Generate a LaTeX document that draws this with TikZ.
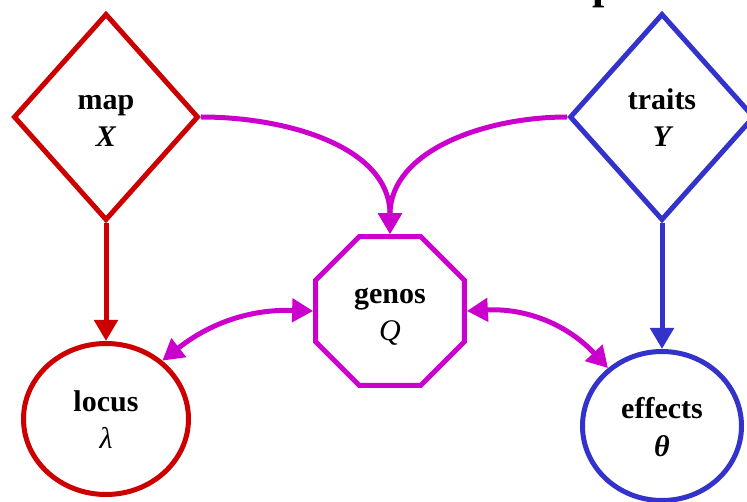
\documentclass[tikz,border=0pt]{standalone}
\usepackage{fontspec}
\setmainfont{Liberation Serif}
\usetikzlibrary{shapes.geometric,arrows.meta}
\definecolor{cred}{RGB}{204,0,0}
\definecolor{cblue}{RGB}{51,51,204}
\definecolor{cmag}{RGB}{204,0,204}
\newcommand\tstrut{\rule{0pt}{29pt}}
\newcommand\bstrut{\rule[-6pt]{0pt}{6pt}}
\begin{document}
\begin{tikzpicture}[x=1pt,y=1pt,
 lbl/.style={align=center,font=\fontsize{30}{37}\selectfont,inner sep=0pt,line width=5pt},
 dia/.style={lbl,diamond,draw,minimum width=185pt,minimum height=207pt},
 ell/.style={lbl,ellipse,draw},
 oct/.style={lbl,regular polygon,regular polygon sides=8,draw,minimum size=161pt},
 tip/.tip={Triangle[length=21pt,width=23pt]},
 arr/.style={line width=5pt,-tip},
 darr/.style={line width=5pt,tip-tip}]
\path[use as bounding box] (0,0) rectangle (747,-502);
\clip (0,0) rectangle (747,-502);
\node[font=\fontsize{44}{44}\selectfont\bfseries, anchor=base, inner sep=0pt] (title) at (605,1) {p};
\node[dia,cred] (map) at (106,-117) {\color{black}\tstrut\bfseries map\\\color{black}\bfseries\itshape X\bstrut};
\node[dia,cblue] (traits) at (662,-117) {\color{black}\tstrut\bfseries traits\\\color{black}\bfseries\itshape Y\bstrut};
\node[oct,cmag] (genos) at (390,-311) {\color{black}\tstrut\bfseries genos\\\color{black}\itshape Q\bstrut};
\node[ell,cred,minimum width=165pt,minimum height=151pt] (locus) at (106,-419) {\color{black}\tstrut\bfseries locus\\\color{black}\itshape λ\bstrut};
\node[ell,cblue,minimum width=159pt,minimum height=149pt] (effects) at (662,-426) {\color{black}\tstrut\bfseries effects\\\color{black}\bfseries\itshape θ\bstrut};
\draw[arr,cred] (map.south) -- (locus.north);
\draw[arr,cblue] (traits.south) -- (effects.north);
\draw[arr,cmag] (map.east) to[out=0,in=90] (genos.north);
\draw[arr,cmag] (traits.west) to[out=180,in=90] (genos.north);
\draw[darr,cmag] (locus.46) to[bend left=20] (genos.west);
\draw[darr,cmag] (genos.east) to[bend left=25] (effects.133);
\end{tikzpicture}
\end{document}
